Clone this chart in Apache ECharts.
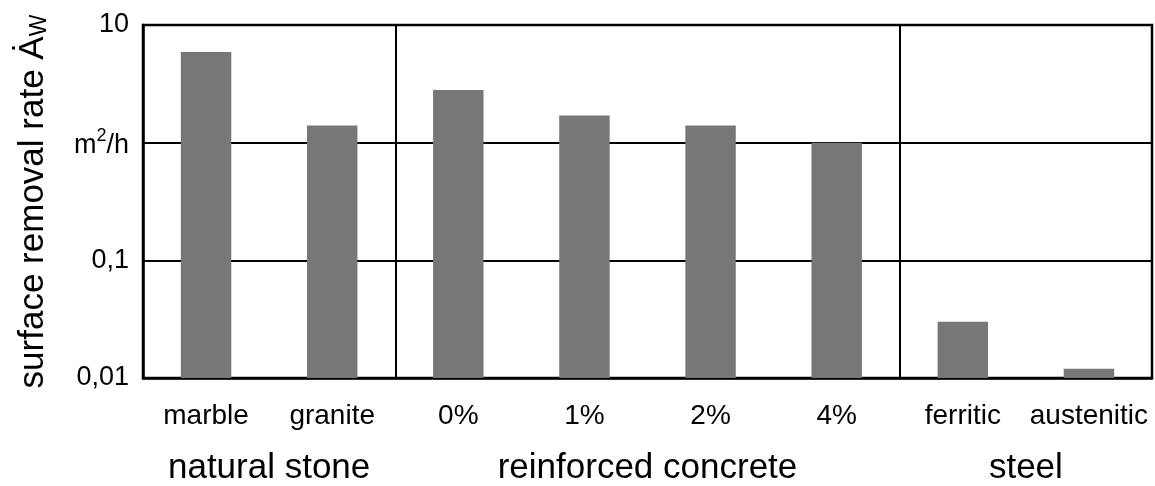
<!DOCTYPE html>
<html>
<head>
<meta charset="utf-8">
<script src="https://cdn.jsdelivr.net/npm/echarts@6/dist/echarts.min.js"></script>
<style>
  html, body { margin: 0; padding: 0; background: #fff; }
  #chart { width: 1155px; height: 486px; }
</style>
</head>
<body>
<div id="chart"></div>
<script>
  // materials and removal rates (m2/h)
  var categories = ['marble', 'granite', '0%', '1%', '2%', '4%', 'ferritic', 'austenitic'];
  var rates = [5.9, 1.4, 2.8, 1.7, 1.4, 1.0, 0.03, 0.012];
  // groups along the bottom: name + centre position in category units
  var groupNames = ['natural stone', 'reinforced concrete', 'steel'];
  var groupCenters = [1, 4, 7];
  var groupBounds = [2, 6];
  // y axis range and tick labels by decade exponent
  var yMin = 0.01, yMax = 10;
  var yTickLabels = { '-2': '0,01', '-1': '0,1', '0': '{u|m}{sup|2}{u|/h}', '1': '10' };

  var font = '"Liberation Sans", Arial, sans-serif';
  var myChart = echarts.init(document.getElementById('chart'));

  // log axis bars would start at 1, so draw them from the axis floor instead
  function renderBar(params, api) {
    var idx = api.value(0);
    var top = api.coord([idx, api.value(1)]);
    var bottom = api.coord([idx, yMin]);
    var w = api.size([1, 1])[0] * 0.4;
    return {
      type: 'rect',
      shape: { x: top[0] - w / 2, y: top[1], width: w, height: bottom[1] - top[1] },
      style: { fill: '#777777' }
    };
  }

  myChart.setOption({
    animation: false,
    grid: {
      left: 143, right: 2, top: 25, bottom: 106,
      show: true, borderColor: '#000', borderWidth: 2.5, backgroundColor: 'transparent'
    },
    xAxis: [
      {
        type: 'category',
        data: categories,
        boundaryGap: true,
        axisLine: { show: true, lineStyle: { color: '#000', width: 2.5 } },
        axisTick: { show: false },
        axisLabel: { color: '#000', fontSize: 28, fontFamily: font, margin: 24, interval: 0 }
      },
      {
        type: 'value',
        position: 'bottom',
        min: 0,
        max: 8,
        interval: 1,
        axisLine: { show: false },
        axisTick: { show: false },
        splitLine: { show: false },
        axisLabel: {
          color: '#000', fontSize: 35, fontFamily: font, margin: 73,
          showMinLabel: true, showMaxLabel: true,
          formatter: function (v) {
            var i = groupCenters.indexOf(Math.round(v));
            return i >= 0 && Math.abs(v - Math.round(v)) < 1e-6 ? groupNames[i] : '';
          }
        }
      }
    ],
    yAxis: {
      type: 'log',
      logBase: 10,
      min: yMin,
      max: yMax,
      name: '{t|surface removal rate Ȧ}{s|W}',
      nameLocation: 'middle',
      nameGap: 92,
      nameRotate: 90,
      nameTextStyle: {
        rich: {
          t: { fontSize: 35, fontFamily: font, color: '#000', verticalAlign: 'bottom', lineHeight: 40 },
          s: { fontSize: 23, fontFamily: font, color: '#000', verticalAlign: 'bottom', lineHeight: 33 }
        }
      },
      axisLine: { show: true, lineStyle: { color: '#000', width: 2.5 } },
      axisTick: { show: false },
      minorTick: { show: false },
      splitLine: { show: true, lineStyle: { color: '#000', width: 2 } },
      axisLabel: {
        color: '#000', fontSize: 27, fontFamily: font, margin: 14,
        formatter: function (v) {
          var e = Math.round(Math.log10(v));
          return yTickLabels[String(e)] || '';
        },
        rich: {
          u: { fontSize: 27, fontFamily: font, color: '#000', verticalAlign: 'bottom', lineHeight: 32 },
          sup: { fontSize: 18, fontFamily: font, color: '#000', verticalAlign: 'top', lineHeight: 32 }
        }
      }
    },
    series: [
      {
        type: 'custom',
        renderItem: renderBar,
        data: rates.map(function (r, i) { return [i, r]; }),
        encode: { x: 0, y: 1 },
        silent: true
      },
      {
        type: 'line',
        xAxisIndex: 1,
        data: [],
        silent: true,
        markLine: {
          symbol: 'none',
          silent: true,
          label: { show: false },
          lineStyle: { color: '#000', width: 2, type: 'solid' },
          data: groupBounds.map(function (b) { return { xAxis: b }; })
        }
      }
    ]
  });
</script>
</body>
</html>
